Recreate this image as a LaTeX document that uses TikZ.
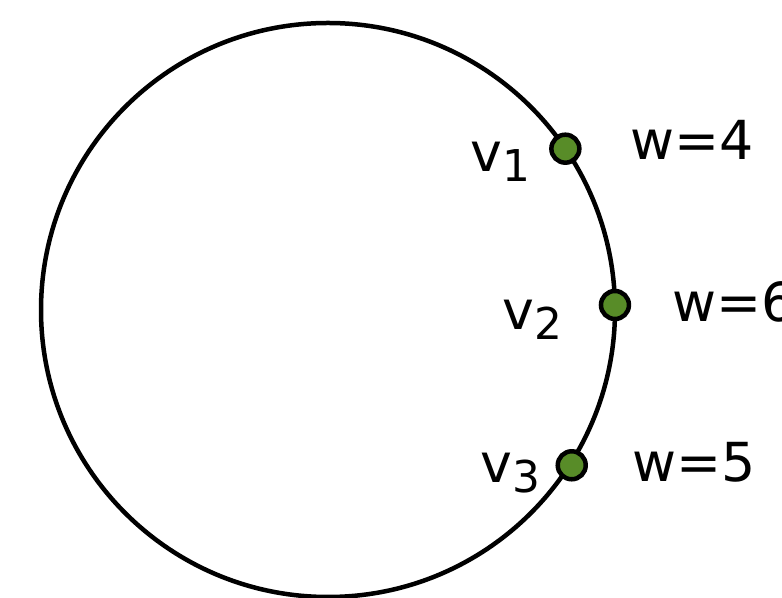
\documentclass[tikz,border=0pt]{standalone}
\usepackage{fontspec}
\setmainfont{DejaVu Sans}
\definecolor{dotgreen}{RGB}{88,140,40}
\newcommand{\vsub}[1]{v\raisebox{-10bp}{\fontsize{44}{44}\selectfont #1}}
\begin{document}
\begin{tikzpicture}[x=1bp,y=1bp,
  dot/.style={circle,draw=black,line width=4.5bp,fill=dotgreen,inner sep=0pt,minimum size=28bp},
  lbl/.style={anchor=base west,inner sep=0pt,font=\fontsize{54}{54}\selectfont}]
\useasboundingbox (0,0) rectangle (782,598);
\coordinate (c) at (328,288);
\draw[line width=4.5bp] (c) circle (287);
\path (c) ++(34.2:287) node[dot] (v1) {};
\path (c) ++(1:287) node[dot] (v2) {};
\path (c) ++(-32.5:289) node[dot] (v3) {};
\node[lbl] (l1) at (470,426) {\vsub{1}};
\node[lbl] (l2) at (502,268) {\vsub{2}};
\node[lbl] (l3) at (480,115) {\vsub{3}};
\node[lbl] (w1) at (630,438) {w=4};
\node[lbl] (w2) at (672,276) {w=6};
\node[lbl] (w3) at (632,116) {w=5};
\end{tikzpicture}
\end{document}
